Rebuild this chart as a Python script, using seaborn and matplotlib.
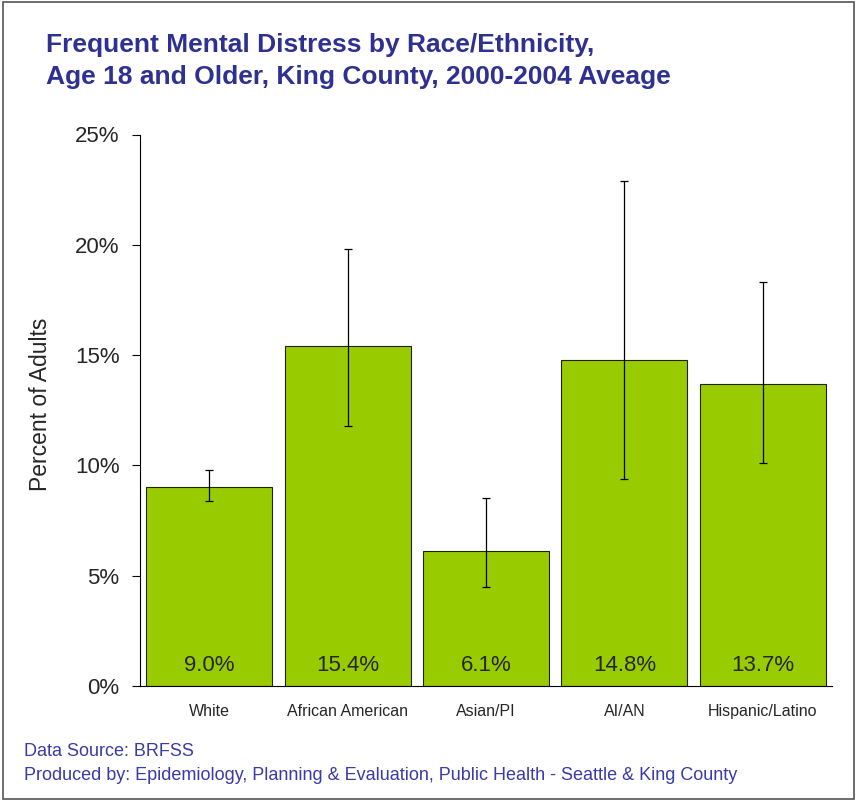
import numpy as np
import pandas as pd
import matplotlib
matplotlib.use("Agg")
import matplotlib.pyplot as plt
import seaborn as sns
from matplotlib.patches import Rectangle

# ========== DATA ==========
groups = ["White", "African American", "Asian/PI", "AI/AN", "Hispanic/Latino"]
pct = [9.0, 15.4, 6.1, 14.8, 13.7]
ci_low = [8.4, 11.8, 4.5, 9.4, 10.1]
ci_high = [9.8, 19.8, 8.5, 22.9, 18.3]
yticks = [0, 5, 10, 15, 20, 25]

BAR = "#99CC00"
TITLE_BLUE = "#2E3192"
NOTE_BLUE = "#3A3AA8"

sns.set_theme(style="white")
plt.rcParams["font.family"] = ["Liberation Sans", "DejaVu Sans"]

df = pd.DataFrame({"group": groups, "pct": pct})

fig = plt.figure(figsize=(8.57, 8.01), dpi=100)
ax = fig.add_axes([140 / 857, 1 - 686 / 801, 692 / 857, (686 - 134.5) / 801])

sns.barplot(data=df, x="group", y="pct", color=BAR, saturation=1,
            edgecolor="#222200", linewidth=0.8, width=0.91, ax=ax)

yerr = np.array([np.array(pct) - np.array(ci_low), np.array(ci_high) - np.array(pct)])
ax.errorbar(np.arange(len(groups)), pct, yerr=yerr, fmt="none",
            ecolor="black", elinewidth=0.9, capsize=3, capthick=0.9)

# value labels at the foot of each bar
for i, v in enumerate(pct):
    ax.text(i, 0.68, f"{v:.1f}%", ha="center", va="baseline", fontsize=16)

ax.set_xlim(-0.5, 4.5)
ax.set_ylim(0, 25)
ax.set_yticks(yticks)
ax.set_yticklabels([f"{t}%" for t in yticks], fontsize=16)
ax.tick_params(axis="y", length=5.8, width=0.8, color="black", left=True, pad=9)
ax.tick_params(axis="x", length=0, labelsize=11.5, pad=13)
ax.set_xlabel("")
ax.set_ylabel("Percent of Adults", fontsize=16.5)
ax.yaxis.set_label_coords(-0.127, 0.51)

for s in ["top", "right"]:
    ax.spines[s].set_visible(False)
for s in ["left", "bottom"]:
    ax.spines[s].set_color("black")
    ax.spines[s].set_linewidth(0.8)

# ========== TITLE / NOTES ==========
fig.text(46 / 857, 1 - 52 / 801, "Frequent Mental Distress by Race/Ethnicity,",
         color=TITLE_BLUE, fontsize=19, fontweight="bold", va="baseline")
fig.text(46 / 857, 1 - 84 / 801, "Age 18 and Older, King County, 2000-2004 Aveage",
         color=TITLE_BLUE, fontsize=19, fontweight="bold", va="baseline")

fig.text(24 / 857, 1 - 755.5 / 801, "Data Source: BRFSS",
         color=NOTE_BLUE, fontsize=13, va="baseline")
fig.text(24 / 857, 1 - 780 / 801,
         "Produced by: Epidemiology, Planning & Evaluation, Public Health - Seattle & King County",
         color=NOTE_BLUE, fontsize=13, va="baseline")

fig.patches.append(Rectangle((3 / 857, 2 / 801), 851 / 857, 797 / 801,
                             transform=fig.transFigure, fill=False,
                             edgecolor="#555555", linewidth=1.2))

fig.savefig("out.png", dpi=100)
